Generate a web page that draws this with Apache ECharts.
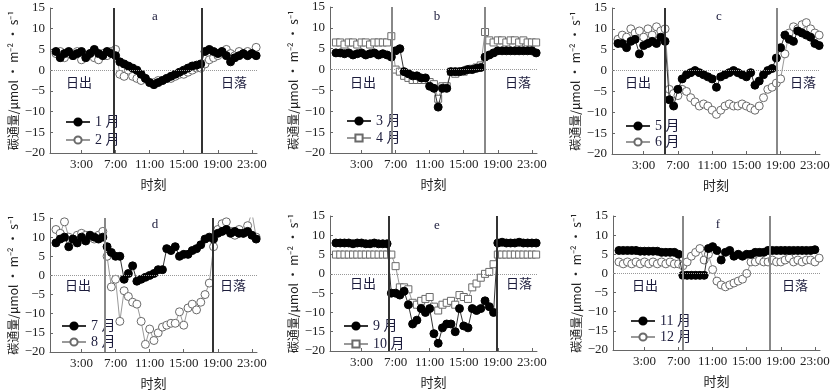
<!DOCTYPE html>
<html><head><meta charset="utf-8">
<script src="https://cdn.jsdelivr.net/npm/echarts@6/dist/echarts.min.js"></script>
<style>html,body{margin:0;padding:0;background:#fff}#c{width:839px;height:392px}</style>
</head><body><div id="c"></div>
<script>
// half-hourly time of day (hours)
const hours = [0,0.5,1,1.5,2,2.5,3,3.5,4,4.5,5,5.5,6,6.5,7,7.5,8,8.5,9,9.5,10,10.5,11,11.5,
  12,12.5,13,13.5,14,14.5,15,15.5,16,16.5,17,17.5,18,18.5,19,19.5,20,20.5,21,21.5,22,22.5,23,23.5];
const xTickHours = [3,7,11,15,19,23];
const panelLetters = ['a','b','c','d','e','f'];
const monthNames = [['1 月','2 月'],['3 月','4 月'],['5 月','6 月'],['7 月','8 月'],['9 月','10 月'],['11 月','12 月']];
const sunrise = [6.73, 6.6, 5.45, 5.75, 6.25, 7.45];
const sunset  = [17.1, 17.5, 18.6, 18.4, 18.85, 17.75];

const jan = [4.5,3,4,4.5,3.5,4,4.5,3,4,5,4,3.5,4.5,4, 3.5,2,1.5,1,0.5,0,-1,-2,-3,-3.5, -3,-2.5,-2,-1.5,-1,-0.5,0,0.5,1,1.2, 1.5,4.5,5,4.5,4,4.5,3.5,2,3,3.5, 4,3.5,4,3.5];
const feb = [4,4.5,3,4,3.5,4.5,2.5,3.5,4,3,2.5,4,3.5,4.5, 5,-1,-1.5,0,-1.5,-2,-2.5,-2,-3,-3, -2.5,-2.5,-2,-2,-1.5,-1,-1,-0.5,0,0.5, 0.5,1.5,2.5,3,3.5,4.5,5,4,3.5,4.5, 4,4.5,4,5.5];
const mar = [4,4,3.8,4,3.5,3.8,4,3.5,3.8,4,3.5,3.8,3.5,3, 4.5,5,-0.5,-1,-1.5,-1.5,-2,-2,-4,-4.5, -9,-4.5,-4.5,-0.5,-0.5,-0.5,-0.3,0,0,0.3, 0.5,3,3.5,4,4.5,4.5,4.5,4.5,4.5,4.5, 4.5,4.5,4.5,4];
const apr = [6.5,6.5,6,6.5,6.5,6,6.5,6.5,6,6.5,6.5,6.5,6.5,8, 0,-0.5,-1.5,-2,-2.5,-2.5,-2.5,-2.5,-3,-3.5, -7,-4,-4,-0.5,-1,-0.5,-0.5,0,0.2,0.5, 1,9,7,6.5,7,7,6.5,7,7,6.5, 7,6.5,6.5,6.5];
const may = [6.5,6.5,5.5,7,7.5,4,6,6.5,7,6.5,8,7, -7,-8.5,-4.5,-2,-1,-0.5,0,-0.5,-1,-1.5,-2,-4, -1.5,-1,-0.5,0,-0.5,-1,-1.5,-0.5,-3.5,-2.5, -1,0,0.5,3,5.5,8.5,7.5,7,9.5,9, 8.5,8,6.5,6];
const jun = [7.5,8.5,8,10,9,9.5,8,10,8.5,10.5,9.5,10, -4.5,-5.5,-6,-4.5,-5,-6.5,-7.5,-8.5,-8,-8.5,-9.5,-10.5, -9.5,-8.5,-8,-8.5,-8.5,-8,-8.5,-9,-9.5,-8.5, -6.5,-4.5,-4,-3,-2,4,9,10.5,10,11, 11.5,10,9,8.5];
const jul = [8.5,9.5,10,7.5,9.5,8.5,10,9,10.5,10,9.5,10, 7.5,6,5,5,-1,0.5,2.5,-1.5,-1,-0.5,0,0.5, 1.5,1.5,7,6.5,7.5,5,5.5,5.5,6.5,7, 8,9.5,10,9.5,11,11.5,12,11,11.5,11, 11,11.5,10.5,9.5];
const aug = [12,11,14,10,9.5,10.5,11,10.5,10,9.5,10.5,11.5, 5,-3,-1,-12,-4,-5.5,-7,-7.5,-12,-18, -14,-17,-15,-13.5,-13,-12.5,-12.5,-9.5,-13,-8.5, -7.5,-9,-7,-5,-2,7.5,12,13.5,14,11.5, 10.5,12,11,13,16.5,10];
const sep = [8,8,8,8,7.8,8,8,7.8,7.8,8,7.8,7.8,7.8, -5,-5,-5.5,-4.5,-8,-13,-12,-9,-10,-9,-15.5,-18,-14,-13,-13,-15,-9,-13.5,-14,-9,-9.5,-9,-7,-8.5,-10, 8,8.2,8,8,8,8.2,8,8,8,8];
const oct = [5,5,5,5,5,5,5,5,5,5,5,5,5, 5,2,-3.5,-3.5,-4,-7.5,-8,-7,-6.5,-6,-8.5,-9.5,-8,-7.5,-7,-8,-5.5,-6,-6.5,-3.5,-2.5,-1,0,0.5,2.5, 5,5,5,5,5,5,5,5,5,5];
const nov = [6,6,6,6,6,5.8,5.8,5.8,5.8,5.8,5.5,5.5,5.5,5.5,5, -0.5,-0.5,-0.5,-0.5,-0.5,-0.5, 6.5,7,6,3.5,5.5,6,4.5,5,4.5,5,5,5.5,5.5,5.5,6,6, 6,6,6,6,6,6,6,6,6,6.2];
const dec = [3,2.5,3,2.5,3,2.5,3,2.5,3,2.5,3,2.5,3,2.5, 2.5,2,3,4.5,5.5,6.5,3.5,5,1,-2,-3,-3.5,-3,-2.5,-2,-1.5,0, 3,3,3.5,3,3,3.5,3,3,3.5,4,3,3.5,3,3.5,3.5,3,4];

const filledData = [jan, mar, may, jul, sep, nov];
const openData = [feb, apr, jun, aug, oct, dec];
const openSymbols = ['circle','rect','circle','circle','rect','circle'];

// layout (pixels)
const grids = [
  {left:50, top:8, width:207, height:145},
  {left:330, top:7, width:207, height:146},
  {left:612, top:8, width:208, height:146},
  {left:50, top:218, width:207, height:134},
  {left:330, top:216, width:207, height:135},
  {left:613, top:216, width:207, height:134}
];
const legendPos = [
  {left:60, top:109, gap:2}, {left:341, top:108, gap:1}, {left:620, top:113, gap:0},
  {left:56, top:313, gap:0}, {left:338, top:313, gap:2}, {left:625, top:308, gap:0}
];
const textPos = [
  {rise:[79,82], set:[234,82], letter:[155,17]},
  {rise:[363,82], set:[518,82], letter:[437,17]},
  {rise:[638,82], set:[803,82], letter:[719,17]},
  {rise:[78,285], set:[233,285], letter:[155,225]},
  {rise:[363,283], set:[519,283], letter:[437,226]},
  {rise:[645,285], set:[795,285], letter:[718,225]}
];
const lineColors = [['#333','#333'],['#888','#888'],['#333','#888'],['#888','#333'],['#333','#333'],['#888','#888']];

const FONT = "'Liberation Serif', 'Noto Sans CJK SC', serif";
const CJK = "'Noto Sans CJK SC', sans-serif";
const textColor = '#1c1c3c';

const option = {animation:false, backgroundColor:'#fff', grid:[], xAxis:[], yAxis:[], series:[], legend:[], graphic:[]};

for (let k = 0; k < 6; k++) {
  option.grid.push(Object.assign({containLabel:false}, grids[k]));
  option.xAxis.push({
    gridIndex:k, type:'value', min:-0.7, max:23.6,
    axisLine:{show:true, onZero:false, lineStyle:{color:'#666', width:1}},
    axisTick:{show:true, inside:true, length:3, customValues:xTickHours, lineStyle:{color:'#666'}},
    axisLabel:{customValues:xTickHours, formatter:v => Math.round(v) + ':00', fontFamily:FONT, fontSize:13, color:'#222', margin:5},
    splitLine:{show:false},
    name:'时刻', nameLocation:'middle', nameGap:25,
    nameTextStyle:{fontFamily:CJK, fontSize:13, color:'#222'}
  });
  option.yAxis.push({
    gridIndex:k, type:'value', min:-20, max:15, interval:5,
    axisLine:{show:true, onZero:false, lineStyle:{color:'#666', width:1}},
    axisTick:{show:true, inside:true, length:3, lineStyle:{color:'#666'}},
    axisLabel:{formatter:v => v < 0 ? '\u2212' + (-v) : String(v), fontFamily:FONT, fontSize:13, color:'#222', margin:5},
    splitLine:{show:false},
    name:'碳通量/μmol • m⁻² • s⁻¹', nameLocation:'middle', nameGap:31, nameRotate:90,
    nameTextStyle:{fontFamily:CJK, fontSize:12, color:'#222'}
  });
  const names = monthNames[k];
  option.series.push({
    type:'line', name:names[1], xAxisIndex:k, yAxisIndex:k,
    data: hours.map((h, i) => [h, openData[k][i]]),
    symbol:openSymbols[k], symbolSize: openSymbols[k] === 'rect' ? 7 : 8,
    itemStyle:{color:'#fff', borderColor:'#6a6a6a', borderWidth:1},
    lineStyle:{color:'#999', width:1}, z:2,
    markLine:{
      silent:true, symbol:['none','none'], label:{show:false},
      data:[
        {yAxis:0, lineStyle:{type:'dotted', color:'#999', width:1}},
        {xAxis:sunrise[k], lineStyle:{type:'solid', color:lineColors[k][0], width:2}},
        {xAxis:sunset[k], lineStyle:{type:'solid', color:lineColors[k][1], width:2}}
      ]
    }
  });
  option.series.push({
    type:'line', name:names[0], xAxisIndex:k, yAxisIndex:k,
    data: hours.map((h, i) => [h, filledData[k][i]]),
    symbol:'circle', symbolSize:8,
    itemStyle:{color:'#000', borderColor:'#000', borderWidth:1},
    lineStyle:{color:'#333', width:1}, z:3
  });
  option.legend.push({
    data:[names[0], names[1]], orient:'vertical',
    left:legendPos[k].left, top:legendPos[k].top, itemGap:legendPos[k].gap,
    itemWidth:24, itemHeight:9,
    textStyle:{fontFamily:FONT, fontSize:14, color:textColor, lineHeight:16}
  });
  const tp = textPos[k];
  const mk = (pos, text, font, size) => ({
    type:'text', x:pos[0], y:pos[1],
    style:{text:text, font: size + 'px ' + font, fill:textColor, align:'center', verticalAlign:'middle'}
  });
  option.graphic.push(mk(tp.rise, '日出', CJK, 13));
  option.graphic.push(mk(tp.set, '日落', CJK, 13));
  option.graphic.push(mk(tp.letter, panelLetters[k], FONT, 13));
}

const chart = echarts.init(document.getElementById('c'), null, {renderer:'canvas'});
chart.setOption(option);
</script>
</body></html>
